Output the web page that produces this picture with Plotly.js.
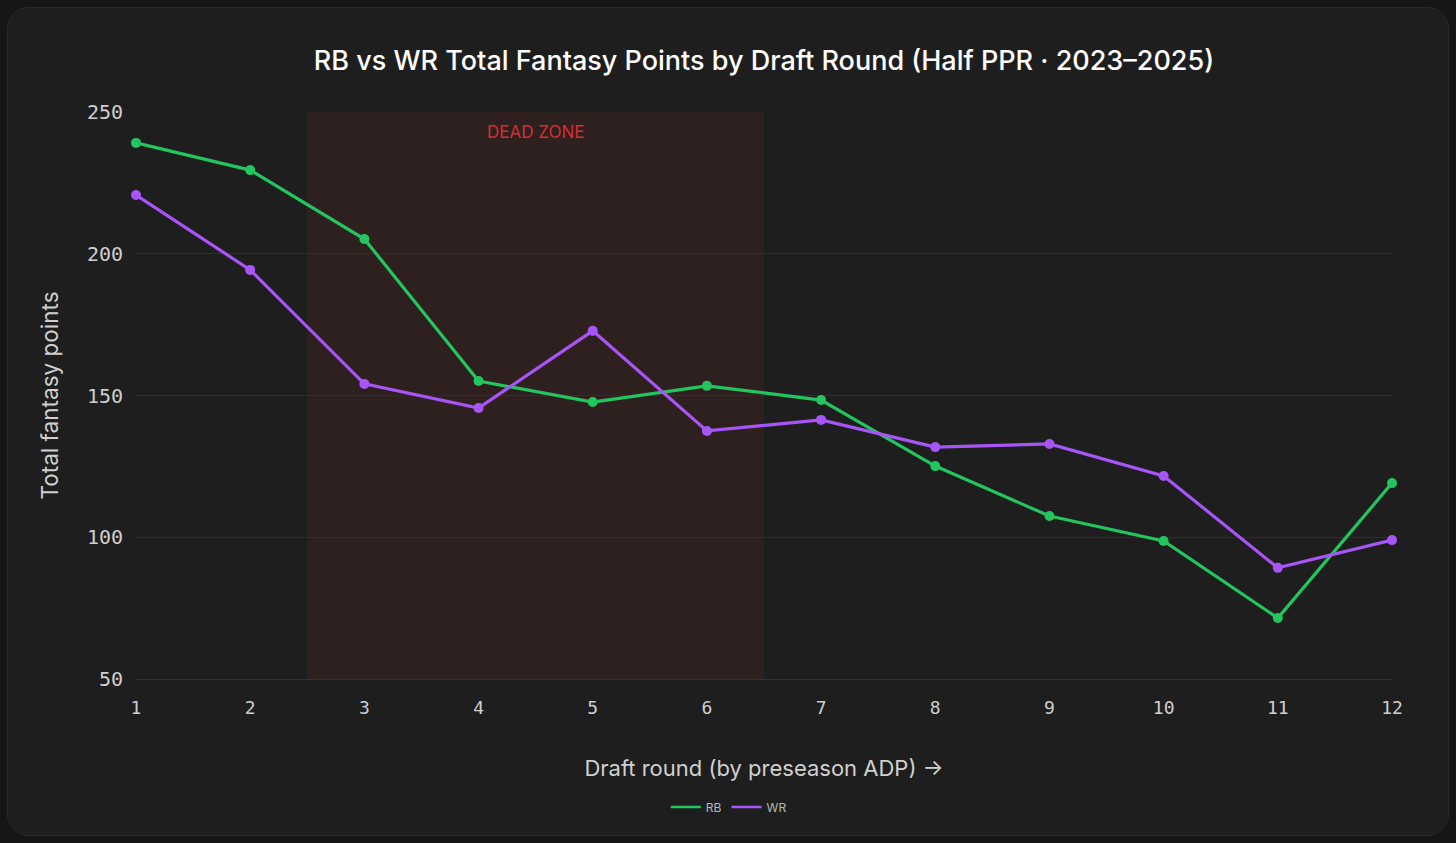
<!DOCTYPE html>
<html>
<head>
<meta charset="utf-8">
<script src="https://cdn.plot.ly/plotly-3.0.1.min.js"></script>
<style>
  html, body { margin: 0; padding: 0; background: #161616; width: 1456px; height: 843px; overflow: hidden; }
  #card {
    position: absolute; left: 7px; top: 7px; width: 1440px; height: 827px;
    background: #1e1e1e; border: 1px solid #2b2b2b; border-radius: 22px; overflow: hidden;
  }
  #chart { width: 1440px; height: 827px; }
</style>
</head>
<body>
<div id="card"><div id="chart"></div></div>
<script>
var rounds = [1, 2, 3, 4, 5, 6, 7, 8, 9, 10, 11, 12];
var rbPoints = [239.1, 229.5, 205.2, 155.1, 147.7, 153.4, 148.4, 125.1, 107.5, 98.7, 71.5, 119.1];
var wrPoints = [220.7, 194.3, 154.1, 145.6, 172.8, 137.5, 141.4, 131.8, 132.9, 121.6, 89.2, 99.0];
var yTicks = [50, 100, 150, 200, 250];
var deadZone = [2.5, 6.5];

var rbColor = '#22c55e';
var wrColor = '#a855f7';

var rb = {
  x: rounds, y: rbPoints,
  mode: 'lines+markers', type: 'scatter', name: 'RB',
  line: { color: rbColor, width: 3.2 },
  marker: { color: rbColor, size: 10 },
  cliponaxis: false,
  showlegend: false
};

var wr = {
  x: rounds, y: wrPoints,
  mode: 'lines+markers', type: 'scatter', name: 'WR',
  line: { color: wrColor, width: 3.2 },
  marker: { color: wrColor, size: 10 },
  cliponaxis: false,
  showlegend: false
};

// legend entries show just the line, as in the original
var rbKey = { x: [null], y: [null], mode: 'lines', type: 'scatter', name: 'RB', line: { color: rbColor, width: 2.5 } };
var wrKey = { x: [null], y: [null], mode: 'lines', type: 'scatter', name: 'WR', line: { color: wrColor, width: 2.5 } };

var layout = {
  width: 1440,
  height: 827,
  paper_bgcolor: '#1e1e1e',
  plot_bgcolor: '#1e1e1e',
  margin: { l: 128, r: 56, t: 104, b: 156 },
  title: {
    text: 'RB vs WR Total Fantasy Points by Draft Round (Half PPR · 2023–2025)',
    font: { family: 'Inter, sans-serif', size: 27, color: '#ffffff', weight: 500 },
    xref: 'paper', x: 0.5, xanchor: 'center', y: 0.937, yanchor: 'middle'
  },
  xaxis: {
    range: [1, 12],
    tickvals: rounds,
    tickfont: { family: 'DejaVu Sans Mono, monospace', size: 18, color: '#cfcfcf' },
    showgrid: false,
    zeroline: false,
    showline: true,
    linecolor: '#333333',
    linewidth: 1,
    ticks: '',
    ticklabelstandoff: 12,
    title: {
      text: 'Draft round (by preseason ADP) →',
      font: { family: 'Inter, sans-serif', size: 22, color: '#d0d0d0' },
      standoff: 44
    }
  },
  yaxis: {
    range: [50, 250],
    tickvals: yTicks,
    tickfont: { family: 'DejaVu Sans Mono, monospace', size: 20, color: '#cfcfcf' },
    gridcolor: '#2e2e2e',
    gridwidth: 1,
    zeroline: false,
    ticks: '',
    ticklabelstandoff: 12,
    title: {
      text: 'Total fantasy points',
      font: { family: 'Inter, sans-serif', size: 22.5, color: '#cfcfcf' },
      standoff: 22
    }
  },
  shapes: [{
    type: 'rect',
    xref: 'x', yref: 'paper',
    x0: deadZone[0], x1: deadZone[1], y0: 0, y1: 1,
    fillcolor: '#2f2020',
    line: { width: 0 },
    layer: 'below'
  }],
  annotations: [{
    text: 'DEAD ZONE',
    xref: 'x', yref: 'paper',
    x: (deadZone[0] + deadZone[1]) / 2, y: 0.965, yanchor: 'middle',
    showarrow: false,
    font: { family: 'Inter, sans-serif', size: 17, color: '#d32f2f' }
  }],
  showlegend: true,
  legend: {
    orientation: 'h',
    x: 0.472, xanchor: 'center',
    y: -0.2, yanchor: 'top',
    font: { family: 'Inter, sans-serif', size: 12, color: '#b8b8b8' },
    bgcolor: 'rgba(0,0,0,0)',
    itemwidth: 30
  },
  hovermode: false
};

Plotly.newPlot('chart', [rb, wr, rbKey, wrKey], layout, { displayModeBar: false, staticPlot: true });
</script>
</body>
</html>
